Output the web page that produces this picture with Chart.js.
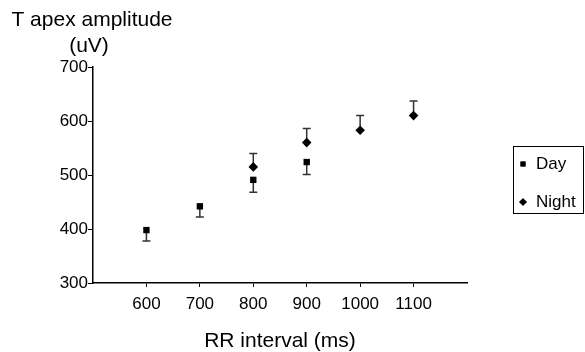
<!DOCTYPE html>
<html>
<head>
<meta charset="utf-8">
<script src="https://cdn.jsdelivr.net/npm/chart.js@4.4.1/dist/chart.umd.min.js"></script>
<style>
  html, body { margin: 0; padding: 0; background: #fff; }
  canvas { display: block; }
</style>
</head>
<body>
<canvas id="chart" width="585" height="352"></canvas>
<script>
// data
const xTicks = [600, 700, 800, 900, 1000, 1100];
const yTicks = [300, 400, 500, 600, 700];

const dayRR = [600, 700, 800, 900];
const dayAmp = [398, 442, 491, 524];
const dayErr = [20, 20, 23, 23];

const nightRR = [800, 900, 1000, 1100];
const nightAmp = [515, 560, 583, 610];
const nightErr = [25, 26, 27, 27];

const FONT = 'Arial, "Liberation Sans", sans-serif';

const toPoints = (xs, ys) => xs.map((x, i) => ({ x: x, y: ys[i] }));

// one-sided error bars: Day goes down, Night goes up
const errorBars = {
  id: 'errorBars',
  beforeDatasetsDraw(chart) {
    const { ctx, scales: { x, y } } = chart;
    ctx.save();
    ctx.strokeStyle = '#333';
    ctx.lineWidth = 1.5;
    chart.data.datasets.forEach((ds) => {
      ds.data.forEach((p, i) => {
        const px = x.getPixelForValue(p.x);
        const y0 = y.getPixelForValue(p.y);
        const y1 = y.getPixelForValue(p.y + ds.errDir * ds.err[i]);
        ctx.beginPath();
        ctx.moveTo(px, y0);
        ctx.lineTo(px, y1);
        ctx.moveTo(px - 4, y1);
        ctx.lineTo(px + 4, y1);
        ctx.stroke();
      });
    });
    ctx.restore();
  },
};

// y title above the axis and the boxed legend on the right
const extras = {
  id: 'extras',
  afterDraw(chart) {
    const { ctx } = chart;
    ctx.save();
    ctx.fillStyle = '#000';
    ctx.textAlign = 'center';
    ctx.textBaseline = 'middle';
    ctx.font = '21px ' + FONT;
    ctx.fillText('T apex amplitude', 92, 20);
    ctx.fillText('(uV)', 89, 46);

    ctx.strokeStyle = '#000';
    ctx.lineWidth = 1;
    ctx.strokeRect(513.5, 146.5, 70, 67);
    ctx.font = '17px ' + FONT;
    ctx.textAlign = 'left';
    chart.data.datasets.forEach((ds, i) => {
      const cy = 164 + i * 38;
      Chart.helpers.drawPoint(ctx, {
        pointStyle: ds.pointStyle, radius: ds.pointRadius - 1, rotation: 0, borderWidth: 0,
      }, 523, cy);
      ctx.fill();
      ctx.fillText(ds.label, 536, cy);
    });
    ctx.restore();
  },
};

new Chart(document.getElementById('chart').getContext('2d'), {
  type: 'scatter',
  data: {
    datasets: [
      {
        label: 'Day',
        data: toPoints(dayRR, dayAmp),
        err: dayErr,
        errDir: -1,
        pointStyle: 'rect',
        pointRadius: 4.5,
        backgroundColor: '#000',
        borderColor: '#000',
        borderWidth: 0,
      },
      {
        label: 'Night',
        data: toPoints(nightRR, nightAmp),
        err: nightErr,
        errDir: 1,
        pointStyle: 'rectRot',
        pointRadius: 4.8,
        backgroundColor: '#000',
        borderColor: '#000',
        borderWidth: 0,
      },
    ],
  },
  options: {
    responsive: false,
    animation: false,
    layout: { padding: { left: 0, right: 118, top: 67, bottom: 0 } },
    plugins: {
      legend: { display: false },
      tooltip: { enabled: false },
    },
    scales: {
      x: {
        type: 'linear',
        min: 500,
        max: 1200,
        afterBuildTicks: (axis) => { axis.ticks = xTicks.map((v) => ({ value: v })); },
        afterFit: (axis) => { axis.height = 69; },
        border: { display: true, color: '#000', width: 1.5 },
        grid: { drawOnChartArea: false, drawTicks: true, tickLength: 4, color: '#000', lineWidth: 1 },
        ticks: {
          color: '#000',
          font: { family: FONT, size: 17 },
          padding: 7,
          maxRotation: 0,
          callback: (v) => String(v),
        },
        title: {
          display: true,
          text: 'RR interval (ms)',
          color: '#000',
          font: { family: FONT, size: 21, lineHeight: 1 },
          padding: { top: 0, bottom: 0 },
        },
      },
      y: {
        min: 300,
        max: 700,
        afterBuildTicks: (axis) => { axis.ticks = yTicks.map((v) => ({ value: v })); },
        afterFit: (axis) => { axis.width = 93; },
        border: { display: true, color: '#000', width: 1.5 },
        grid: { drawOnChartArea: false, drawTicks: true, tickLength: 5, color: '#000', lineWidth: 1 },
        ticks: { color: '#000', font: { family: FONT, size: 17 }, padding: 0, callback: (v) => String(v) },
      },
    },
  },
  plugins: [errorBars, extras],
});
</script>
</body>
</html>
